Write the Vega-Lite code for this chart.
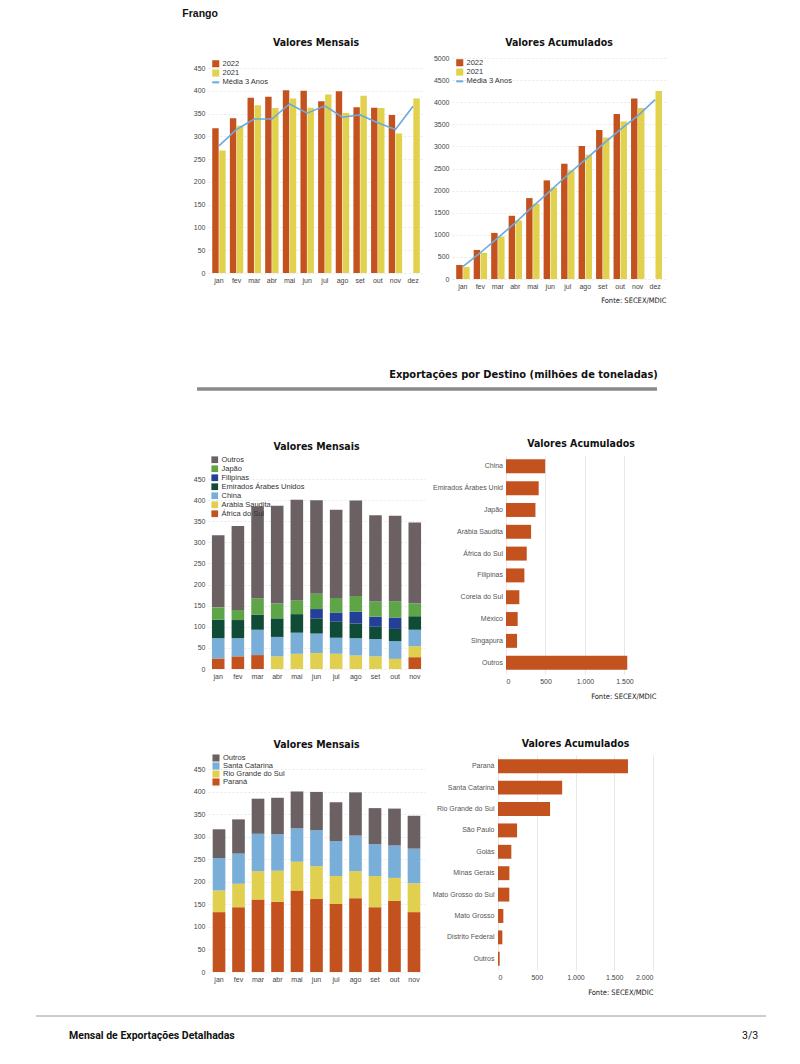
{
  "$schema": "https://vega.github.io/schema/vega-lite/v6.json",
  "background": "white",
  "padding": {"left": 35, "top": 9, "right": 35, "bottom": 5},
  "spacing": 15,
  "resolve": {"scale": {"color": "independent"}, "legend": {"color": "independent"}},
  "config": {
    "view": {"stroke": null},
    "font": "Liberation Sans",
    "title": {"font": "DejaVu Sans Condensed", "fontSize": 10.5, "fontWeight": "bold", "color": "#111111"},
    "axis": {"labelFont": "Liberation Sans", "labelFontSize": 7, "labelColor": "#444444", "domain": false, "ticks": false, "gridColor": "#e2e2e2", "gridWidth": 0.8, "titleFont": "DejaVu Sans Condensed", "titleFontWeight": "normal", "titleFontSize": 7.5, "titleColor": "#222222"},
    "axisY": {"gridDash": [2, 2]},
    "legend": {"orient": "none", "title": null, "labelFont": "Liberation Sans", "labelFontSize": 7.5, "labelColor": "#333333", "symbolType": "square", "symbolSize": 50, "rowPadding": 0.3, "labelOffset": 3, "symbolStrokeWidth": 0}
  },
  "datasets": {
    "frango_mensal": [
      {"mes": "jan", "serie": "2022", "valor": 318}, {"mes": "fev", "serie": "2022", "valor": 340}, {"mes": "mar", "serie": "2022", "valor": 385}, {"mes": "abr", "serie": "2022", "valor": 387}, {"mes": "mai", "serie": "2022", "valor": 401}, {"mes": "jun", "serie": "2022", "valor": 400}, {"mes": "jul", "serie": "2022", "valor": 377}, {"mes": "ago", "serie": "2022", "valor": 399}, {"mes": "set", "serie": "2022", "valor": 364}, {"mes": "out", "serie": "2022", "valor": 363}, {"mes": "nov", "serie": "2022", "valor": 347},
      {"mes": "jan", "serie": "2021", "valor": 269}, {"mes": "fev", "serie": "2021", "valor": 323}, {"mes": "mar", "serie": "2021", "valor": 368}, {"mes": "abr", "serie": "2021", "valor": 362}, {"mes": "mai", "serie": "2021", "valor": 383}, {"mes": "jun", "serie": "2021", "valor": 363}, {"mes": "jul", "serie": "2021", "valor": 392}, {"mes": "ago", "serie": "2021", "valor": 351}, {"mes": "set", "serie": "2021", "valor": 389}, {"mes": "out", "serie": "2021", "valor": 362}, {"mes": "nov", "serie": "2021", "valor": 306}, {"mes": "dez", "serie": "2021", "valor": 383},
      {"mes": "jan", "serie": "Média 3 Anos", "valor": 279}, {"mes": "fev", "serie": "Média 3 Anos", "valor": 315}, {"mes": "mar", "serie": "Média 3 Anos", "valor": 338}, {"mes": "abr", "serie": "Média 3 Anos", "valor": 338}, {"mes": "mai", "serie": "Média 3 Anos", "valor": 371}, {"mes": "jun", "serie": "Média 3 Anos", "valor": 351}, {"mes": "jul", "serie": "Média 3 Anos", "valor": 367}, {"mes": "ago", "serie": "Média 3 Anos", "valor": 342}, {"mes": "set", "serie": "Média 3 Anos", "valor": 347}, {"mes": "out", "serie": "Média 3 Anos", "valor": 330}, {"mes": "nov", "serie": "Média 3 Anos", "valor": 315}, {"mes": "dez", "serie": "Média 3 Anos", "valor": 366}
    ],
    "frango_acum": [
      {"mes": "jan", "serie": "2022", "valor": 318}, {"mes": "fev", "serie": "2022", "valor": 658}, {"mes": "mar", "serie": "2022", "valor": 1043}, {"mes": "abr", "serie": "2022", "valor": 1430}, {"mes": "mai", "serie": "2022", "valor": 1831}, {"mes": "jun", "serie": "2022", "valor": 2231}, {"mes": "jul", "serie": "2022", "valor": 2608}, {"mes": "ago", "serie": "2022", "valor": 3007}, {"mes": "set", "serie": "2022", "valor": 3371}, {"mes": "out", "serie": "2022", "valor": 3734}, {"mes": "nov", "serie": "2022", "valor": 4081},
      {"mes": "jan", "serie": "2021", "valor": 269}, {"mes": "fev", "serie": "2021", "valor": 592}, {"mes": "mar", "serie": "2021", "valor": 960}, {"mes": "abr", "serie": "2021", "valor": 1322}, {"mes": "mai", "serie": "2021", "valor": 1705}, {"mes": "jun", "serie": "2021", "valor": 2068}, {"mes": "jul", "serie": "2021", "valor": 2460}, {"mes": "ago", "serie": "2021", "valor": 2811}, {"mes": "set", "serie": "2021", "valor": 3200}, {"mes": "out", "serie": "2021", "valor": 3562}, {"mes": "nov", "serie": "2021", "valor": 3868}, {"mes": "dez", "serie": "2021", "valor": 4251},
      {"mes": "jan", "serie": "Média 3 Anos", "valor": 279}, {"mes": "fev", "serie": "Média 3 Anos", "valor": 594}, {"mes": "mar", "serie": "Média 3 Anos", "valor": 932}, {"mes": "abr", "serie": "Média 3 Anos", "valor": 1270}, {"mes": "mai", "serie": "Média 3 Anos", "valor": 1641}, {"mes": "jun", "serie": "Média 3 Anos", "valor": 1992}, {"mes": "jul", "serie": "Média 3 Anos", "valor": 2359}, {"mes": "ago", "serie": "Média 3 Anos", "valor": 2701}, {"mes": "set", "serie": "Média 3 Anos", "valor": 3048}, {"mes": "out", "serie": "Média 3 Anos", "valor": 3378}, {"mes": "nov", "serie": "Média 3 Anos", "valor": 3693}, {"mes": "dez", "serie": "Média 3 Anos", "valor": 4059}
    ],
    "destinos": [
      {"destino": "Outros", "rank": 1}, {"destino": "Japão", "rank": 2}, {"destino": "Filipinas", "rank": 3}, {"destino": "Emirados Árabes Unidos", "rank": 4}, {"destino": "China", "rank": 5}, {"destino": "Arábia Saudita", "rank": 6}, {"destino": "África do Sul", "rank": 7}
    ],
    "estados": [
      {"estado": "Outros", "rank": 1}, {"estado": "Santa Catarina", "rank": 2}, {"estado": "Rio Grande do Sul", "rank": 3}, {"estado": "Paraná", "rank": 4}
    ],
    "destino_mensal": [
      {"mes": "jan", "destino": "África do Sul", "valor": 25}, {"mes": "fev", "destino": "África do Sul", "valor": 30}, {"mes": "mar", "destino": "África do Sul", "valor": 33}, {"mes": "nov", "destino": "África do Sul", "valor": 28},
      {"mes": "abr", "destino": "Arábia Saudita", "valor": 30}, {"mes": "mai", "destino": "Arábia Saudita", "valor": 36}, {"mes": "jun", "destino": "Arábia Saudita", "valor": 38}, {"mes": "jul", "destino": "Arábia Saudita", "valor": 36}, {"mes": "ago", "destino": "Arábia Saudita", "valor": 32}, {"mes": "set", "destino": "Arábia Saudita", "valor": 30}, {"mes": "out", "destino": "Arábia Saudita", "valor": 24}, {"mes": "nov", "destino": "Arábia Saudita", "valor": 26},
      {"mes": "jan", "destino": "China", "valor": 48}, {"mes": "fev", "destino": "China", "valor": 43}, {"mes": "mar", "destino": "China", "valor": 60}, {"mes": "abr", "destino": "China", "valor": 46}, {"mes": "mai", "destino": "China", "valor": 50}, {"mes": "jun", "destino": "China", "valor": 46}, {"mes": "jul", "destino": "China", "valor": 38}, {"mes": "ago", "destino": "China", "valor": 41}, {"mes": "set", "destino": "China", "valor": 41}, {"mes": "out", "destino": "China", "valor": 42}, {"mes": "nov", "destino": "China", "valor": 39},
      {"mes": "jan", "destino": "Emirados Árabes Unidos", "valor": 44}, {"mes": "fev", "destino": "Emirados Árabes Unidos", "valor": 43}, {"mes": "mar", "destino": "Emirados Árabes Unidos", "valor": 36}, {"mes": "abr", "destino": "Emirados Árabes Unidos", "valor": 44}, {"mes": "mai", "destino": "Emirados Árabes Unidos", "valor": 44}, {"mes": "jun", "destino": "Emirados Árabes Unidos", "valor": 36}, {"mes": "jul", "destino": "Emirados Árabes Unidos", "valor": 38}, {"mes": "ago", "destino": "Emirados Árabes Unidos", "valor": 35}, {"mes": "set", "destino": "Emirados Árabes Unidos", "valor": 29}, {"mes": "out", "destino": "Emirados Árabes Unidos", "valor": 29}, {"mes": "nov", "destino": "Emirados Árabes Unidos", "valor": 32},
      {"mes": "jun", "destino": "Filipinas", "valor": 22}, {"mes": "jul", "destino": "Filipinas", "valor": 22}, {"mes": "ago", "destino": "Filipinas", "valor": 28}, {"mes": "set", "destino": "Filipinas", "valor": 24}, {"mes": "out", "destino": "Filipinas", "valor": 27},
      {"mes": "jan", "destino": "Japão", "valor": 29}, {"mes": "fev", "destino": "Japão", "valor": 24}, {"mes": "mar", "destino": "Japão", "valor": 38}, {"mes": "abr", "destino": "Japão", "valor": 35}, {"mes": "mai", "destino": "Japão", "valor": 33}, {"mes": "jun", "destino": "Japão", "valor": 36}, {"mes": "jul", "destino": "Japão", "valor": 34}, {"mes": "ago", "destino": "Japão", "valor": 37}, {"mes": "set", "destino": "Japão", "valor": 36}, {"mes": "out", "destino": "Japão", "valor": 38}, {"mes": "nov", "destino": "Japão", "valor": 30},
      {"mes": "jan", "destino": "Outros", "valor": 171}, {"mes": "fev", "destino": "Outros", "valor": 199}, {"mes": "mar", "destino": "Outros", "valor": 218}, {"mes": "abr", "destino": "Outros", "valor": 232}, {"mes": "mai", "destino": "Outros", "valor": 238}, {"mes": "jun", "destino": "Outros", "valor": 222}, {"mes": "jul", "destino": "Outros", "valor": 209}, {"mes": "ago", "destino": "Outros", "valor": 226}, {"mes": "set", "destino": "Outros", "valor": 204}, {"mes": "out", "destino": "Outros", "valor": 203}, {"mes": "nov", "destino": "Outros", "valor": 192}
    ],
    "destino_acum": [
      {"destino": "China", "valor": 496}, {"destino": "Emirados Árabes Unidos", "valor": 414}, {"destino": "Japão", "valor": 373}, {"destino": "Arábia Saudita", "valor": 318}, {"destino": "África do Sul", "valor": 263}, {"destino": "Filipinas", "valor": 233}, {"destino": "Coreia do Sul", "valor": 169}, {"destino": "México", "valor": 148}, {"destino": "Singapura", "valor": 140}, {"destino": "Outros", "valor": 1536}
    ],
    "estado_mensal": [
      {"mes": "jan", "estado": "Paraná", "valor": 133}, {"mes": "fev", "estado": "Paraná", "valor": 144}, {"mes": "mar", "estado": "Paraná", "valor": 161}, {"mes": "abr", "estado": "Paraná", "valor": 156}, {"mes": "mai", "estado": "Paraná", "valor": 181}, {"mes": "jun", "estado": "Paraná", "valor": 162}, {"mes": "jul", "estado": "Paraná", "valor": 151}, {"mes": "ago", "estado": "Paraná", "valor": 164}, {"mes": "set", "estado": "Paraná", "valor": 144}, {"mes": "out", "estado": "Paraná", "valor": 158}, {"mes": "nov", "estado": "Paraná", "valor": 133},
      {"mes": "jan", "estado": "Rio Grande do Sul", "valor": 48}, {"mes": "fev", "estado": "Rio Grande do Sul", "valor": 52}, {"mes": "mar", "estado": "Rio Grande do Sul", "valor": 63}, {"mes": "abr", "estado": "Rio Grande do Sul", "valor": 69}, {"mes": "mai", "estado": "Rio Grande do Sul", "valor": 64}, {"mes": "jun", "estado": "Rio Grande do Sul", "valor": 73}, {"mes": "jul", "estado": "Rio Grande do Sul", "valor": 62}, {"mes": "ago", "estado": "Rio Grande do Sul", "valor": 60}, {"mes": "set", "estado": "Rio Grande do Sul", "valor": 69}, {"mes": "out", "estado": "Rio Grande do Sul", "valor": 51}, {"mes": "nov", "estado": "Rio Grande do Sul", "valor": 64},
      {"mes": "jan", "estado": "Santa Catarina", "valor": 72}, {"mes": "fev", "estado": "Santa Catarina", "valor": 67}, {"mes": "mar", "estado": "Santa Catarina", "valor": 83}, {"mes": "abr", "estado": "Santa Catarina", "valor": 81}, {"mes": "mai", "estado": "Santa Catarina", "valor": 74}, {"mes": "jun", "estado": "Santa Catarina", "valor": 80}, {"mes": "jul", "estado": "Santa Catarina", "valor": 78}, {"mes": "ago", "estado": "Santa Catarina", "valor": 79}, {"mes": "set", "estado": "Santa Catarina", "valor": 71}, {"mes": "out", "estado": "Santa Catarina", "valor": 72}, {"mes": "nov", "estado": "Santa Catarina", "valor": 77},
      {"mes": "jan", "estado": "Outros", "valor": 64}, {"mes": "fev", "estado": "Outros", "valor": 76}, {"mes": "mar", "estado": "Outros", "valor": 78}, {"mes": "abr", "estado": "Outros", "valor": 81}, {"mes": "mai", "estado": "Outros", "valor": 82}, {"mes": "jun", "estado": "Outros", "valor": 85}, {"mes": "jul", "estado": "Outros", "valor": 86}, {"mes": "ago", "estado": "Outros", "valor": 96}, {"mes": "set", "estado": "Outros", "valor": 80}, {"mes": "out", "estado": "Outros", "valor": 82}, {"mes": "nov", "estado": "Outros", "valor": 73}
    ],
    "estado_acum": [
      {"estado": "Paraná", "valor": 1677}, {"estado": "Santa Catarina", "valor": 828}, {"estado": "Rio Grande do Sul", "valor": 672}, {"estado": "São Paulo", "valor": 246}, {"estado": "Goiás", "valor": 172}, {"estado": "Minas Gerais", "valor": 147}, {"estado": "Mato Grosso do Sul", "valor": 146}, {"estado": "Mato Grosso", "valor": 69}, {"estado": "Distrito Federal", "valor": 56}, {"estado": "Outros", "valor": 22}
    ]
  },
  "vconcat": [
    {
      "title": {"text": "Frango", "anchor": "start", "dx": -11, "font": "Liberation Sans", "fontSize": 10.5, "fontWeight": "bold", "offset": 18},
      "spacing": 9,
      "resolve": {"scale": {"color": "independent"}, "legend": {"color": "independent"}},
      "hconcat": [
        {
          "width": 216, "height": 215,
          "title": {"text": "Valores Mensais", "offset": 10},
          "data": {"name": "frango_mensal"},
          "encoding": {
            "x": {"field": "mes", "type": "nominal", "sort": ["jan","fev","mar","abr","mai","jun","jul","ago","set","out","nov","dez"], "scale": {"paddingInner": 0.24, "paddingOuter": 0.24}, "axis": {"title": null, "labelAngle": 0, "labelPadding": 3}},
            "y": {"field": "valor", "type": "quantitative", "scale": {"domain": [0, 472], "nice": false}, "axis": {"title": null, "values": [0,50,100,150,200,250,300,350,400,450], "labelPadding": 3}},
            "color": {"field": "serie", "type": "nominal", "scale": {"domain": ["2022","2021","Média 3 Anos"], "range": ["#c4521f","#e1d14d","#6aaadf"]},
              "legend": {"legendX": 4, "legendY": 2, "encode": {"symbols": {"update": {"shape": {"signal": "datum.value === 'Média 3 Anos' ? 'stroke' : 'square'"}, "stroke": {"signal": "datum.value === 'Média 3 Anos' ? '#6aaadf' : null"}, "strokeWidth": {"signal": "datum.value === 'Média 3 Anos' ? 2 : 0"}}}}}}
          },
          "layer": [
            {"transform": [{"filter": "datum.serie !== 'Média 3 Anos'"}], "mark": {"type": "bar"}, "encoding": {"xOffset": {"field": "serie", "type": "nominal", "scale": {"domain": ["2022","2021"], "paddingInner": 0.08}}}},
            {"transform": [{"filter": "datum.serie === 'Média 3 Anos'"}], "mark": {"type": "line", "strokeWidth": 1.6}}
          ]
        },
        {
          "width": 214, "height": 221,
          "title": {"text": "Valores Acumulados", "offset": 6},
          "data": {"name": "frango_acum"},
          "encoding": {
            "x": {"field": "mes", "type": "nominal", "sort": ["jan","fev","mar","abr","mai","jun","jul","ago","set","out","nov","dez"], "scale": {"paddingInner": 0.24, "paddingOuter": 0.24}, "axis": {"title": "Fonte: SECEX/MDIC", "titleAnchor": "end", "titlePadding": 7, "labelAngle": 0, "labelPadding": 3}},
            "y": {"field": "valor", "type": "quantitative", "scale": {"domain": [0, 5000], "nice": false}, "axis": {"title": null, "format": "d", "values": [0,500,1000,1500,2000,2500,3000,3500,4000,4500,5000], "labelPadding": 3}},
            "color": {"field": "serie", "type": "nominal", "scale": {"domain": ["2022","2021","Média 3 Anos"], "range": ["#c4521f","#e1d14d","#6aaadf"]},
              "legend": {"legendX": 4, "legendY": 1, "encode": {"symbols": {"update": {"shape": {"signal": "datum.value === 'Média 3 Anos' ? 'stroke' : 'square'"}, "stroke": {"signal": "datum.value === 'Média 3 Anos' ? '#6aaadf' : null"}, "strokeWidth": {"signal": "datum.value === 'Média 3 Anos' ? 2 : 0"}}}}}}
          },
          "layer": [
            {"transform": [{"filter": "datum.serie !== 'Média 3 Anos'"}], "mark": {"type": "bar"}, "encoding": {"xOffset": {"field": "serie", "type": "nominal", "scale": {"domain": ["2022","2021"], "paddingInner": 0.08}}}},
            {"transform": [{"filter": "datum.serie === 'Média 3 Anos'"}], "mark": {"type": "line", "strokeWidth": 1.6}}
          ]
        }
      ]
    },
    {
      "width": 449, "height": 104,
      "data": {"values": [{}]},
      "layer": [
        {"mark": {"type": "rule", "color": "#8a8a8a", "strokeWidth": 3.5},
         "encoding": {"x": {"datum": -0.0245, "type": "quantitative", "scale": {"domain": [0, 1], "nice": false, "zero": false}, "axis": null}, "x2": {"datum": 1}, "y": {"datum": 0.327, "type": "quantitative", "scale": {"domain": [0, 1], "nice": false}, "axis": null}}},
        {"mark": {"type": "text", "align": "right", "baseline": "middle", "font": "DejaVu Sans Condensed", "fontSize": 11, "fontWeight": "bold", "color": "#111111"},
         "encoding": {"x": {"datum": 1.002, "type": "quantitative"}, "y": {"datum": 0.4615, "type": "quantitative"}, "text": {"value": "Exportações por Destino (milhões de toneladas)"}}}
      ]
    },
    {
      "spacing": 7,
      "resolve": {"scale": {"color": "independent"}, "legend": {"color": "independent"}},
      "hconcat": [
        {
          "width": 217, "height": 214,
          "title": {"text": "Valores Mensais", "offset": 3},
          "data": {"name": "destino_mensal"},
          "transform": [{"lookup": "destino", "from": {"data": {"name": "destinos"}, "key": "destino", "fields": ["rank"]}}],
          "mark": {"type": "bar"},
          "encoding": {
            "x": {"field": "mes", "type": "nominal", "sort": ["jan","fev","mar","abr","mai","jun","jul","ago","set","out","nov"], "scale": {"paddingInner": 0.36, "paddingOuter": 0.2}, "axis": {"title": null, "labelAngle": 0, "labelPadding": 3}},
            "y": {"field": "valor", "type": "quantitative", "scale": {"domain": [0, 507], "nice": false}, "axis": {"title": null, "values": [0,50,100,150,200,250,300,350,400,450], "labelPadding": 3}},
            "order": {"field": "rank", "type": "quantitative", "sort": "descending"},
            "color": {"field": "destino", "type": "nominal", "scale": {"domain": ["Outros", "Japão", "Filipinas", "Emirados Árabes Unidos", "China", "Arábia Saudita", "África do Sul"], "range": ["#6b6163", "#5da546", "#233f97", "#0f4b36", "#79aed8", "#e1cf4f", "#c4521f"]}, "legend": {"legendX": 3, "legendY": 1, "symbolSize": 45, "rowPadding": 0}}
          }
        },
        {
          "width": 150, "height": 219,
          "title": {"text": "Valores Acumulados", "offset": 6},
          "data": {"name": "destino_acum"},
          "mark": {"type": "bar", "color": "#c4521f"},
          "encoding": {
            "y": {"field": "destino", "type": "nominal", "sort": ["China", "Emirados Árabes Unidos", "Japão", "Arábia Saudita", "África do Sul", "Filipinas", "Coreia do Sul", "México", "Singapura", "Outros"], "scale": {"paddingInner": 0.36, "paddingOuter": 0.2}, "axis": {"title": null, "labelExpr": "substring(datum.label, 0, 20)", "labelPadding": 3.5, "labelLimit": 200, "labelColor": "#555555"}},
            "x": {"field": "valor", "type": "quantitative", "scale": {"domain": [0, 1900], "nice": false}, "axis": {"title": "Fonte: SECEX/MDIC", "titleAnchor": "end", "titlePadding": 8, "values": [0, 500, 1000, 1500], "labelExpr": "replace(format(datum.value, ','), ',', '.')", "labelPadding": 3}}
          }
        }
      ]
    },
    {
      "width": 10, "height": 8,
      "data": {"values": [{}]},
      "mark": {"type": "point", "opacity": 0}
    },
    {
      "spacing": 7,
      "resolve": {"scale": {"color": "independent"}, "legend": {"color": "independent"}},
      "hconcat": [
        {
          "width": 217, "height": 217,
          "title": {"text": "Valores Mensais", "offset": 4},
          "data": {"name": "estado_mensal"},
          "transform": [{"lookup": "estado", "from": {"data": {"name": "estados"}, "key": "estado", "fields": ["rank"]}}],
          "mark": {"type": "bar"},
          "encoding": {
            "x": {"field": "mes", "type": "nominal", "sort": ["jan","fev","mar","abr","mai","jun","jul","ago","set","out","nov"], "scale": {"paddingInner": 0.35, "paddingOuter": 0.24}, "axis": {"title": null, "labelAngle": 0, "labelPadding": 3}},
            "y": {"field": "valor", "type": "quantitative", "scale": {"domain": [0, 482], "nice": false}, "axis": {"title": null, "values": [0,50,100,150,200,250,300,350,400,450], "labelPadding": 3}},
            "order": {"field": "rank", "type": "quantitative", "sort": "descending"},
            "color": {"field": "estado", "type": "nominal", "scale": {"domain": ["Outros", "Santa Catarina", "Rio Grande do Sul", "Paraná"], "range": ["#6b6163", "#79aed8", "#e1cf4f", "#c4521f"]}, "legend": {"legendX": 4, "legendY": -1, "symbolSize": 50, "rowPadding": 0}}
          }
        },
        {
          "width": 155, "height": 215,
          "title": {"text": "Valores Acumulados", "offset": 6},
          "data": {"name": "estado_acum"},
          "mark": {"type": "bar", "color": "#c4521f"},
          "encoding": {
            "y": {"field": "estado", "type": "nominal", "sort": ["Paraná", "Santa Catarina", "Rio Grande do Sul", "São Paulo", "Goiás", "Minas Gerais", "Mato Grosso do Sul", "Mato Grosso", "Distrito Federal", "Outros"], "scale": {"paddingInner": 0.35, "paddingOuter": 0.2}, "axis": {"title": null, "labelPadding": 4, "labelLimit": 200, "labelColor": "#555555"}},
            "x": {"field": "valor", "type": "quantitative", "scale": {"domain": [0, 2000], "nice": false}, "axis": {"title": "Fonte: SECEX/MDIC", "titleAnchor": "end", "titlePadding": 8, "values": [0, 500, 1000, 1500, 2000], "labelExpr": "replace(format(datum.value, ','), ',', '.')", "labelPadding": 3}}
          }
        }
      ]
    },
    {
      "width": 558, "height": 30,
      "data": {"values": [{}]},
      "layer": [
        {"mark": {"type": "rule", "color": "#9a9a9a", "strokeWidth": 1},
         "encoding": {"x": {"datum": -0.308, "type": "quantitative", "scale": {"domain": [0, 1], "nice": false, "zero": false}, "axis": null}, "x2": {"datum": 1}, "y": {"datum": 0.833, "type": "quantitative", "scale": {"domain": [0, 1], "nice": false}, "axis": null}}},
        {"mark": {"type": "text", "align": "left", "baseline": "middle", "font": "Roboto", "fontWeight": "bold", "fontSize": 10.5, "color": "#111111"},
         "encoding": {"x": {"datum": -0.249, "type": "quantitative"}, "y": {"datum": 0.18, "type": "quantitative"}, "text": {"value": "Mensal de Exportações Detalhadas"}}},
        {"mark": {"type": "text", "align": "right", "baseline": "middle", "font": "Roboto", "fontSize": 10.5, "color": "#111111"},
         "encoding": {"x": {"datum": 0.986, "type": "quantitative"}, "y": {"datum": 0.18, "type": "quantitative"}, "text": {"value": "3/3"}}}
      ]
    }
  ]
}
